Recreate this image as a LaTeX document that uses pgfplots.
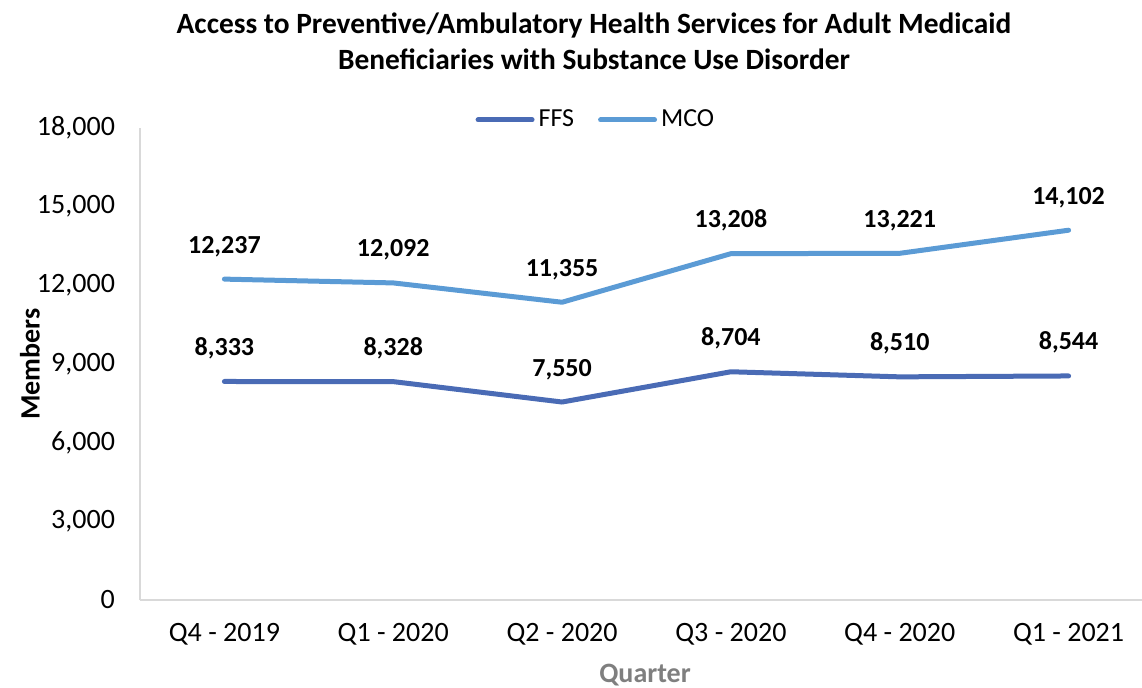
\documentclass[border=0pt]{standalone}
\usepackage{pgfplots}
\pgfplotsset{compat=1.18}
\usepackage{fontspec}
\setmainfont{Carlito}
\definecolor{ffs}{HTML}{4A6BB5}
\definecolor{mco}{HTML}{5B9BD5}
\definecolor{axgray}{HTML}{D9D9D9}
\definecolor{qgray}{HTML}{7F7F7F}
\begin{document}
\begin{tikzpicture}
\path[use as bounding box] (0,0) rectangle (571pt,343.5pt);
\node[font=\fontsize{14.7}{18}\selectfont\bfseries, align=center] at (297pt,323pt)
  {Access to Preventive/Ambulatory Health Services for Adult Medicaid\\Beneficiaries with Substance Use Disorder};
\node[font=\fontsize{14}{16}\selectfont\bfseries, rotate=90] at (15pt,161.5pt) {Members};
\node[font=\fontsize{14}{16}\selectfont\bfseries, text=qgray] at (322.5pt,6pt) {Quarter};
\begin{axis}[
  at={(70pt,43.5pt)}, anchor=south west,
  width=506.5pt, height=236pt, scale only axis=true,
  xmin=-0.5, xmax=5.5, ymin=0, ymax=18000,
  xtick={0,1,2,3,4,5},
  xticklabels={Q4 - 2019, Q1 - 2020, Q2 - 2020, Q3 - 2020, Q4 - 2020, Q1 - 2021},
  ytick={0,3000,6000,9000,12000,15000,18000},
  axis x line*=bottom, axis y line*=left,
  axis line style={draw=axgray, line width=0.75pt, -},
  major tick length=0pt,
  tick label style={font=\fontsize{14}{16}\selectfont},
  yticklabel style={xshift=-9pt},
  xticklabel style={yshift=-8pt},
  /pgf/number format/.cd, fixed, precision=0, 1000 sep={,}, assume math mode=true,
  /pgfplots/.cd,
  scaled y ticks=false,
  clip=false,
  nodes near coords,
  every node near coord/.append style={font=\fontsize{13}{15}\selectfont\bfseries, text=black, anchor=base, inner sep=0pt, yshift=13pt},
  legend style={at={(0.451,1.017)}, anchor=center, draw=none, fill=none,
    legend columns=2, font=\fontsize{13}{15}\selectfont,
    /tikz/every even column/.append style={column sep=10pt}},
  legend image code/.code={\draw[#1, line cap=round] (0pt,0pt) -- (27pt,0pt);},
]
\addplot[ffs, line width=2.5pt, line join=round, line cap=round] coordinates {
  (0,8333) (1,8328) (2,7550) (3,8704) (4,8510) (5,8544)};
\addlegendentry{FFS}
\addplot[mco, line width=2.5pt, line join=round, line cap=round] coordinates {
  (0,12237) (1,12092) (2,11355) (3,13208) (4,13221) (5,14102)};
\addlegendentry{MCO}
\end{axis}
\end{tikzpicture}
\end{document}
